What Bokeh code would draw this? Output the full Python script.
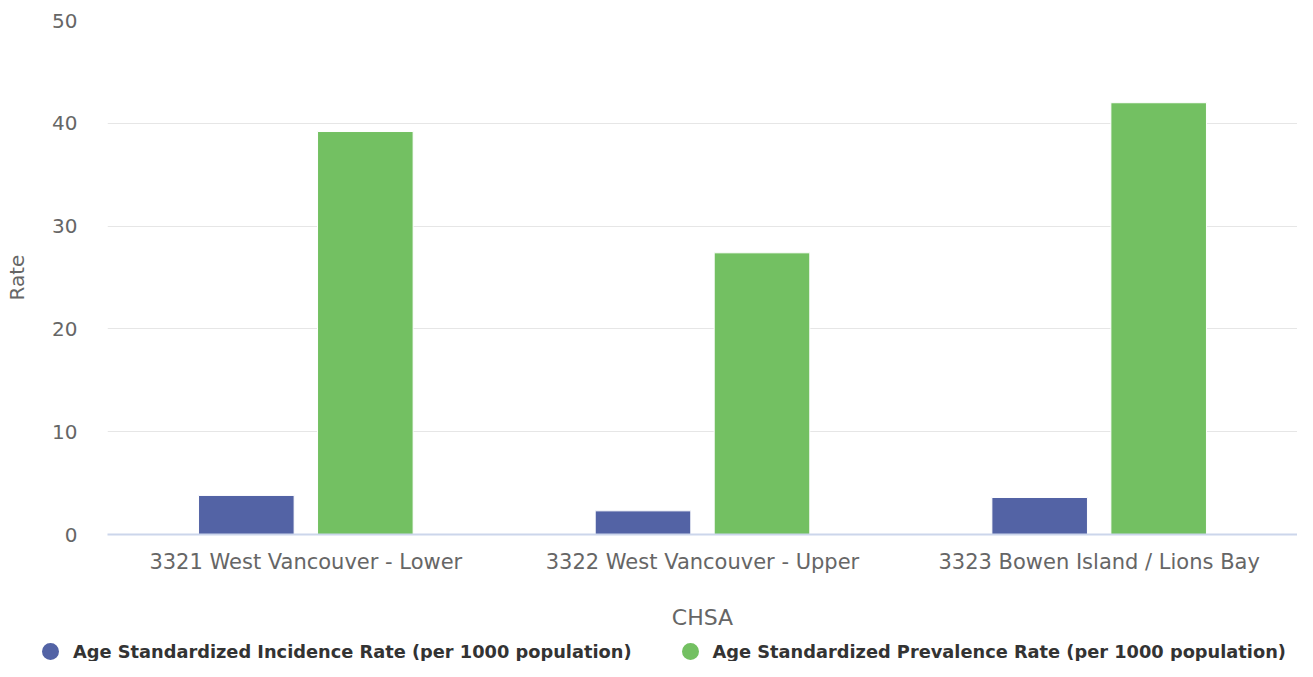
from bokeh.plotting import figure
from bokeh.layouts import column
from bokeh.models import FactorRange, Range1d, Legend, LegendItem, ColumnDataSource
from bokeh.transform import dodge
from bokeh.embed import file_html
from bokeh.resources import INLINE

categories = ["3321 West Vancouver - Lower", "3322 West Vancouver - Upper", "3323 Bowen Island / Lions Bay"]
incidence = [3.8, 2.3, 3.6]
prevalence = [39.2, 27.4, 42.0]
y_ticks = [0, 10, 20, 30, 40, 50]
series_names = ["Age Standardized Incidence Rate (per 1000 population)",
                "Age Standardized Prevalence Rate (per 1000 population)"]
colors = ["#5363a5", "#73c062"]

FONT = "DejaVu Sans"

src = ColumnDataSource(dict(cat=categories, inc=incidence, prev=prevalence))

p = figure(width=1297, height=632, x_range=FactorRange(*categories, range_padding=0),
           y_range=Range1d(0, 50), output_backend="svg", toolbar_location=None,
           min_border_left=107, min_border_right=0, min_border_top=20, min_border_bottom=98)
p.outline_line_color = None
p.background_fill_color = "white"
p.border_fill_color = "white"

p.vbar(x=dodge("cat", -0.15, range=p.x_range), top="inc", width=0.241, source=src,
       fill_color=colors[0], line_color="white", line_width=1)
p.vbar(x=dodge("cat", 0.15, range=p.x_range), top="prev", width=0.241, source=src,
       fill_color=colors[1], line_color="white", line_width=1)

p.xgrid.grid_line_color = None
p.ygrid.grid_line_color = "#e6e6e6"
p.ygrid.grid_line_width = 1
p.yaxis.ticker = y_ticks

p.yaxis.axis_line_color = None
p.yaxis.major_tick_line_color = None
p.yaxis.minor_tick_line_color = None
p.yaxis.major_tick_out = 0
p.yaxis.major_label_standoff = 30
p.yaxis.major_label_text_font = FONT
p.yaxis.major_label_text_font_size = "20px"
p.yaxis.major_label_text_color = "#666666"
p.yaxis.axis_label = "Rate"
p.yaxis.axis_label_text_font = FONT
p.yaxis.axis_label_text_font_size = "20px"
p.yaxis.axis_label_text_font_style = "normal"
p.yaxis.axis_label_text_color = "#666666"
p.yaxis.axis_label_standoff = 20

p.xaxis.axis_line_color = "#ccd6eb"
p.xaxis.axis_line_width = 2
p.xaxis.major_tick_line_color = None
p.xaxis.minor_tick_line_color = None
p.xaxis.major_tick_out = 0
p.xaxis.major_label_standoff = 15
p.xaxis.major_label_text_font = FONT
p.xaxis.major_label_text_font_size = "21px"
p.xaxis.major_label_text_color = "#666666"
p.xaxis.axis_label = "CHSA"
p.xaxis.axis_label_text_font = FONT
p.xaxis.axis_label_text_font_size = "22px"
p.xaxis.axis_label_text_font_style = "normal"
p.xaxis.axis_label_text_color = "#666666"
p.xaxis.axis_label_standoff = 28

# legend strip below the chart
lg = figure(width=1297, height=29, x_range=Range1d(0, 1), y_range=Range1d(0, 1),
            output_backend="svg", toolbar_location=None, x_axis_type=None, y_axis_type=None,
            min_border=0, min_border_left=0, min_border_right=0, min_border_top=0, min_border_bottom=0)
lg.frame_align = False
lg.outline_line_color = None
lg.grid.grid_line_color = None
nan = float("nan")
m1 = lg.scatter(x=[nan], y=[nan], marker="circle", fill_color=colors[0], line_color=colors[0], line_width=7.4, size=17)
m2 = lg.scatter(x=[nan], y=[nan], marker="circle", fill_color=colors[1], line_color=colors[1], line_width=7.4, size=17)

legend = Legend(items=[LegendItem(label=series_names[0], renderers=[m1]),
                       LegendItem(label=series_names[1], renderers=[m2])],
                orientation="horizontal", location=(29, -2),
                glyph_width=42, glyph_height=24, label_standoff=2, spacing=37,
                padding=0, margin=0, border_line_color=None, background_fill_alpha=0,
                label_text_font=FONT, label_text_font_size="17.8px", label_text_font_style="bold",
                label_text_color="#333333")
lg.add_layout(legend, "center")

layout = column(p, lg, spacing=0)
open("out.html", "w").write(file_html(layout, INLINE))
